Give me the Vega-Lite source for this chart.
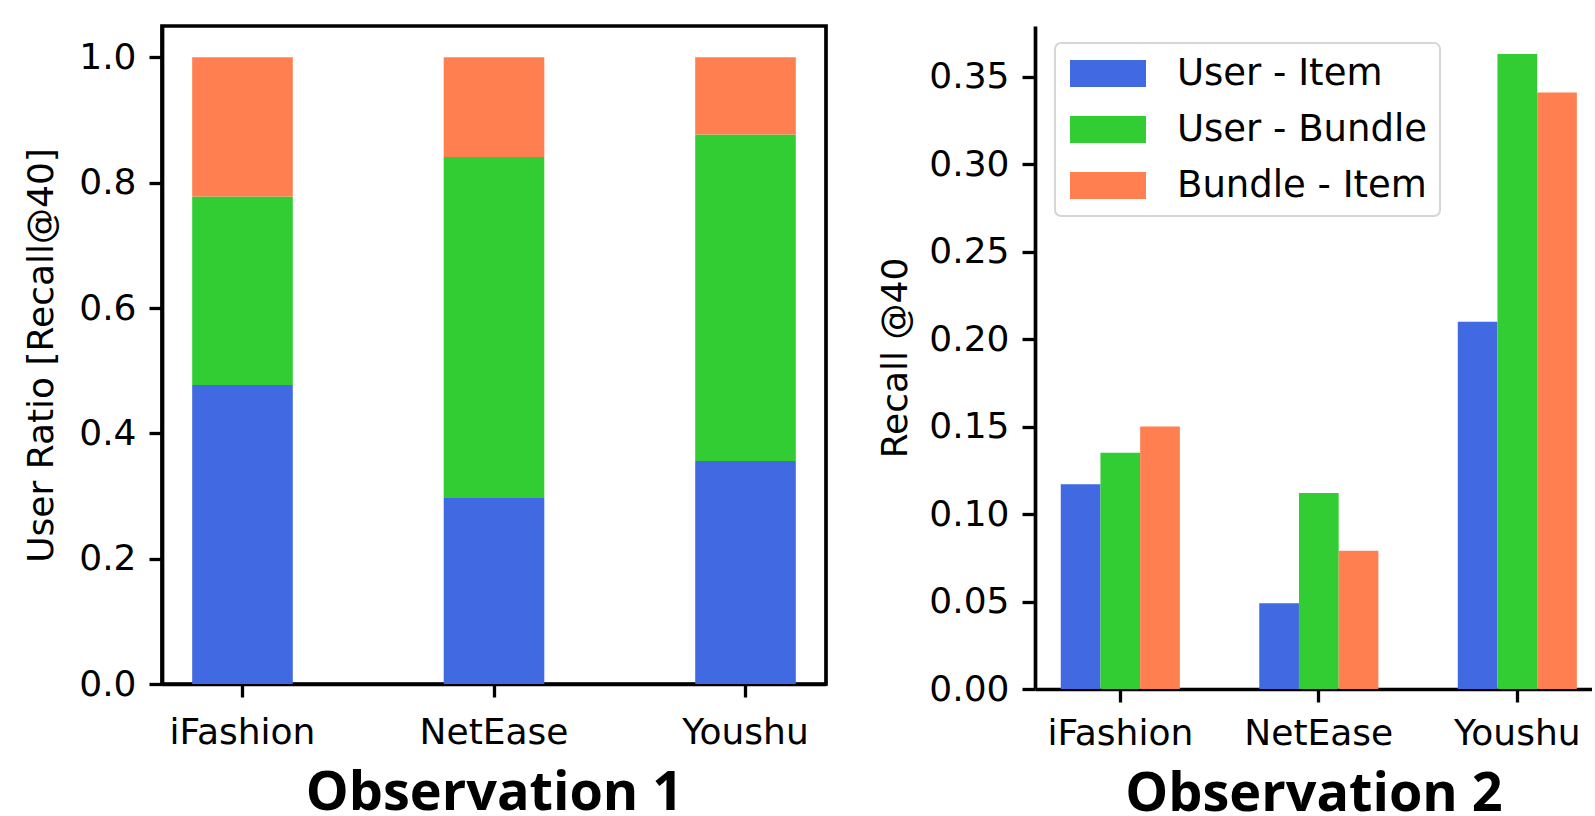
{
  "$schema": "https://vega.github.io/schema/vega-lite/v6.json",
  "padding": {"left": 21, "top": 24, "right": 0, "bottom": -6},
  "background": "white",
  "spacing": 49,
  "config": {
    "view": {"stroke": null},
    "font": "DejaVu Sans",
    "axis": {
      "labelFont": "DejaVu Sans", "labelFontSize": 36, "labelColor": "black",
      "titleFont": "DejaVu Sans", "titleFontSize": 36, "titleColor": "black", "titleFontWeight": "normal",
      "domainColor": "black", "domainWidth": 3.7, "tickColor": "black", "tickWidth": 3.3, "tickSize": 13,
      "grid": false, "labelPadding": 13
    }
  },
  "datasets": {
    "ratio": [
      {"dataset": "iFashion", "series": "User - Item", "rank": 1, "ratio": 0.477},
      {"dataset": "iFashion", "series": "User - Bundle", "rank": 2, "ratio": 0.301},
      {"dataset": "iFashion", "series": "Bundle - Item", "rank": 3, "ratio": 0.222},
      {"dataset": "NetEase", "series": "User - Item", "rank": 1, "ratio": 0.297},
      {"dataset": "NetEase", "series": "User - Bundle", "rank": 2, "ratio": 0.544},
      {"dataset": "NetEase", "series": "Bundle - Item", "rank": 3, "ratio": 0.159},
      {"dataset": "Youshu", "series": "User - Item", "rank": 1, "ratio": 0.356},
      {"dataset": "Youshu", "series": "User - Bundle", "rank": 2, "ratio": 0.521},
      {"dataset": "Youshu", "series": "Bundle - Item", "rank": 3, "ratio": 0.123}
    ],
    "recall": [
      {"dataset": "iFashion", "series": "User - Item", "recall": 0.117},
      {"dataset": "iFashion", "series": "User - Bundle", "recall": 0.135},
      {"dataset": "iFashion", "series": "Bundle - Item", "recall": 0.150},
      {"dataset": "NetEase", "series": "User - Item", "recall": 0.049},
      {"dataset": "NetEase", "series": "User - Bundle", "recall": 0.112},
      {"dataset": "NetEase", "series": "Bundle - Item", "recall": 0.079},
      {"dataset": "Youshu", "series": "User - Item", "recall": 0.210},
      {"dataset": "Youshu", "series": "User - Bundle", "recall": 0.363},
      {"dataset": "Youshu", "series": "Bundle - Item", "recall": 0.341}
    ]
  },
  "hconcat": [
    {
      "width": 664,
      "height": 658,
      "view": {"stroke": "black", "strokeWidth": 3.7},
      "data": {"name": "ratio"},
      "mark": {"type": "bar"},
      "encoding": {
        "x": {
          "field": "dataset", "type": "nominal", "sort": ["iFashion", "NetEase", "Youshu"],
          "scale": {"paddingInner": 0.6, "paddingOuter": 0.12},
          "axis": {"labelAngle": 0, "title": "Observation 1", "titleFont": "Open Sans", "titleFontWeight": "bold", "titleFontSize": 54, "titlePadding": 16, "labelPadding": 18}
        },
        "y": {
          "field": "ratio", "type": "quantitative", "stack": "zero",
          "scale": {"domain": [0, 1.05], "nice": false},
          "axis": {"values": [0, 0.2, 0.4, 0.6, 0.8, 1.0], "format": ".1f", "title": "User Ratio [Recall@40]", "titlePadding": 18}
        },
        "color": {
          "field": "series", "type": "nominal",
          "scale": {"domain": ["User - Item", "User - Bundle", "Bundle - Item"], "range": ["#4169E1", "#32CD32", "#FF7F50"]},
          "legend": null
        },
        "order": {"field": "rank", "type": "quantitative"}
      }
    },
    {
      "width": 557,
      "height": 663,
      "data": {"name": "recall"},
      "mark": {"type": "bar"},
      "encoding": {
        "x": {
          "field": "dataset", "type": "nominal", "sort": ["iFashion", "NetEase", "Youshu"],
          "scale": {"paddingInner": 0.4, "paddingOuter": 0.103, "align": 0.63},
          "axis": {"labelAngle": 0, "title": "Observation 2", "titleFont": "Open Sans", "titleFontWeight": "bold", "titleFontSize": 54, "titlePadding": 16, "labelPadding": 14}
        },
        "xOffset": {
          "field": "series", "type": "nominal",
          "scale": {"domain": ["User - Item", "User - Bundle", "Bundle - Item"], "paddingInner": 0, "paddingOuter": 0}
        },
        "y": {
          "field": "recall", "type": "quantitative",
          "scale": {"domain": [0, 0.379], "nice": false},
          "axis": {"values": [0, 0.05, 0.1, 0.15, 0.2, 0.25, 0.3, 0.35], "format": ".2f", "title": "Recall @40", "titlePadding": 14}
        },
        "color": {
          "field": "series", "type": "nominal",
          "scale": {"domain": ["User - Item", "User - Bundle", "Bundle - Item"], "range": ["#4169E1", "#32CD32", "#FF7F50"]},
          "legend": {
            "orient": "none", "legendX": 20, "legendY": 17, "title": null,
            "symbolType": "M-1.148,-1H4.481V1H-1.148Z", "symbolSize": 729, "symbolStrokeWidth": 0, "symbolOpacity": 1,
            "labelFont": "DejaVu Sans", "labelFontSize": 37, "labelColor": "black", "labelOffset": 73, "labelLimit": 500,
            "rowPadding": 18, "padding": 12,
            "strokeColor": "#d6d6d6", "fillColor": "white",
            "encode": {"legend": {"update": {"strokeWidth": {"value": 2}, "cornerRadius": {"value": 6}}}}
          }
        }
      }
    }
  ],
  "resolve": {"scale": {"color": "independent"}}
}
